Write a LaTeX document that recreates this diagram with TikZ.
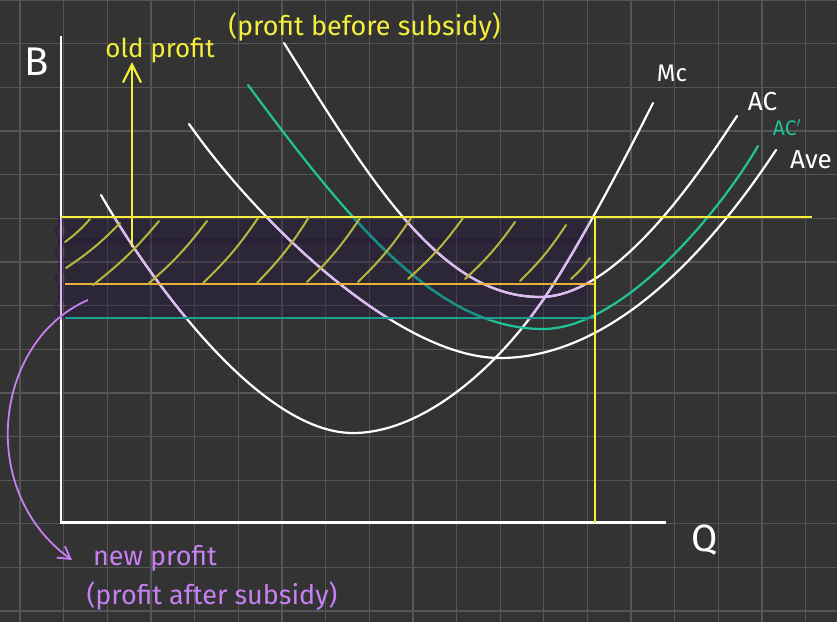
\documentclass[tikz,border=0pt]{standalone}
\usepackage{fontspec}
\setmainfont{Fira Sans}
\usepackage{xcolor}
\usetikzlibrary{arrows.meta}
\definecolor{boardbg}{RGB}{51,51,51}
\definecolor{gridgray}{RGB}{85,85,85}
\definecolor{subsidyfill}{RGB}{31,14,61}
\definecolor{curvelilac}{RGB}{220,185,242}
\definecolor{acteal}{RGB}{32,196,152}
\definecolor{actealdim}{RGB}{22,140,135}
\definecolor{profityellow}{RGB}{245,238,58}
\definecolor{hatcholive}{RGB}{182,184,62}
\definecolor{costorange}{RGB}{232,178,58}
\definecolor{costteal}{RGB}{30,158,146}
\definecolor{notepurple}{RGB}{198,128,242}

% cost curves, in pixel coordinates
\newcommand{\mcline}{(101,195) .. controls (150,280) and (260,433) .. (353,433)
  .. controls (420,433) and (493,372.5) .. (543,300)
  .. controls (578,249) and (628,153) .. (653,103)}
\newcommand{\avcline}{(189,124) .. controls (260,225) and (400,358) .. (500,358)
  .. controls (630,358) and (735,212) .. (776,150)}
\newcommand{\acline}{(284,43) .. controls (370,180) and (440,297) .. (540,297)
  .. controls (620,297) and (705,164) .. (737,116)}
\newcommand{\acnewline}{(248,85) .. controls (355,230) and (440,329) .. (543,329)
  .. controls (620,329) and (715,219) .. (758,146)}

\begin{document}
\begin{tikzpicture}[
  x=1pt, y=-1pt,
  gridline/.style={draw=gridgray, line width=1.3pt},
  axisline/.style={draw=white, line width=2.5pt},
  curve/.style={line width=2.2pt, line cap=round},
  hatch/.style={draw=hatcholive, line width=2pt, line cap=round},
  lbl/.style={inner sep=0pt, anchor=base},
  hand/.style={font=\fontsize{#1}{#1}\selectfont},
]
\useasboundingbox (0,0) rectangle (837,622);
\fill[boardbg] (0,0) rectangle (837,622);

% grid
\foreach \k in {0,...,18}
  \draw[gridline] ({20+43.65*\k},0) -- ({20+43.65*\k},622);
\foreach \k in {0,...,14}
  \draw[gridline] (0,{43.65*\k}) -- (837,{43.65*\k});

% profit region
\fill[subsidyfill, opacity=0.3] (58,217) rectangle (590,319)
  (60,231) circle[radius=6] (60,253) circle[radius=6]
  (60,278) circle[radius=6] (60,306) circle[radius=6];
\fill[subsidyfill, opacity=0.25] (58,238) rectangle (590,244);

% axes
\draw[axisline] (61,36) -- (61,522.5) -- (666,522.5);

% curves
\draw[curve, white] \mcline;
\draw[curve, white] \avcline;
\draw[curve, white] \acline;
\draw[curve, acteal] \acnewline;
\begin{scope}
  \clip (50,217) rectangle (590,319);
  \draw[curve, curvelilac] \mcline;
  \draw[curve, curvelilac] \avcline;
  \draw[curve, curvelilac] \acline;
  \draw[curve, actealdim] \acnewline;
  \draw[line width=2.5pt, curvelilac] (61,217) -- (61,322);
\end{scope}

% price and quantity lines
\draw[costteal, line width=1.5pt] (65,318) -- (595,318);
\draw[costorange, line width=1.5pt] (65,284) -- (595,284);
\draw[profityellow, line width=2.2pt] (61,217) -- (812,217);
\draw[profityellow, line width=2pt] (595,217) -- (595,522.5);

% hatching of the old profit
\foreach \xa/\ya/\xb/\yb in {65/242/90/219, 66/268/120/223, 93/285/159/221,
  148/284/207/221, 203/283/258/218, 257/283/309/217, 307/282/360/218,
  358/282/411/218, 408/279/463/218, 465/279/515/222, 520/281/566/225,
  571/279/590/258}
  \draw[hatch] (\xa,\ya) to[bend right=6] (\xb,\yb);

% labels
\node[lbl, hand=40, white] (blabel) at (36.5,75) {B};
\node[lbl, hand=38, white] (qlabel) at (705,551) {Q};
\node[lbl, hand=24, white] (mclabel) at (672,81.5) {Mc};
\node[lbl, hand=26, white] (aclabel) at (762.5,110.5) {AC};
\node[lbl, hand=21, acteal] (acnewlabel) at (787,135) {AC$'$};
\node[lbl, hand=26, white] (avclabel) at (811,168) {Ave};

\node[lbl, hand=26, profityellow] (oldlabel) at (160,57) {old profit};
\node[lbl, hand=27, profityellow] (oldnote) at (364.5,35) {(profit before subsidy)};
\node[lbl, hand=27, notepurple] (newlabel) at (155,565) {new profit};
\node[lbl, hand=27, notepurple] (newnote) at (212,604) {(profit after subsidy)};

% arrows
\coordinate (oldfoot) at (132,247);
\coordinate (oldtip) at (132,62);
\draw[profityellow, line width=2.2pt, -{Straight Barb[length=18pt, width=18pt]}] (oldfoot) -- (oldtip);
\coordinate (newstart) at (88,300);
\coordinate (newtip) at (72,560);
\draw[notepurple, line width=1.8pt, -{Straight Barb[length=12pt, width=14pt]}]
  (newstart) .. controls (-5,340) and (-25,490) .. (newtip);
\end{tikzpicture}
\end{document}
